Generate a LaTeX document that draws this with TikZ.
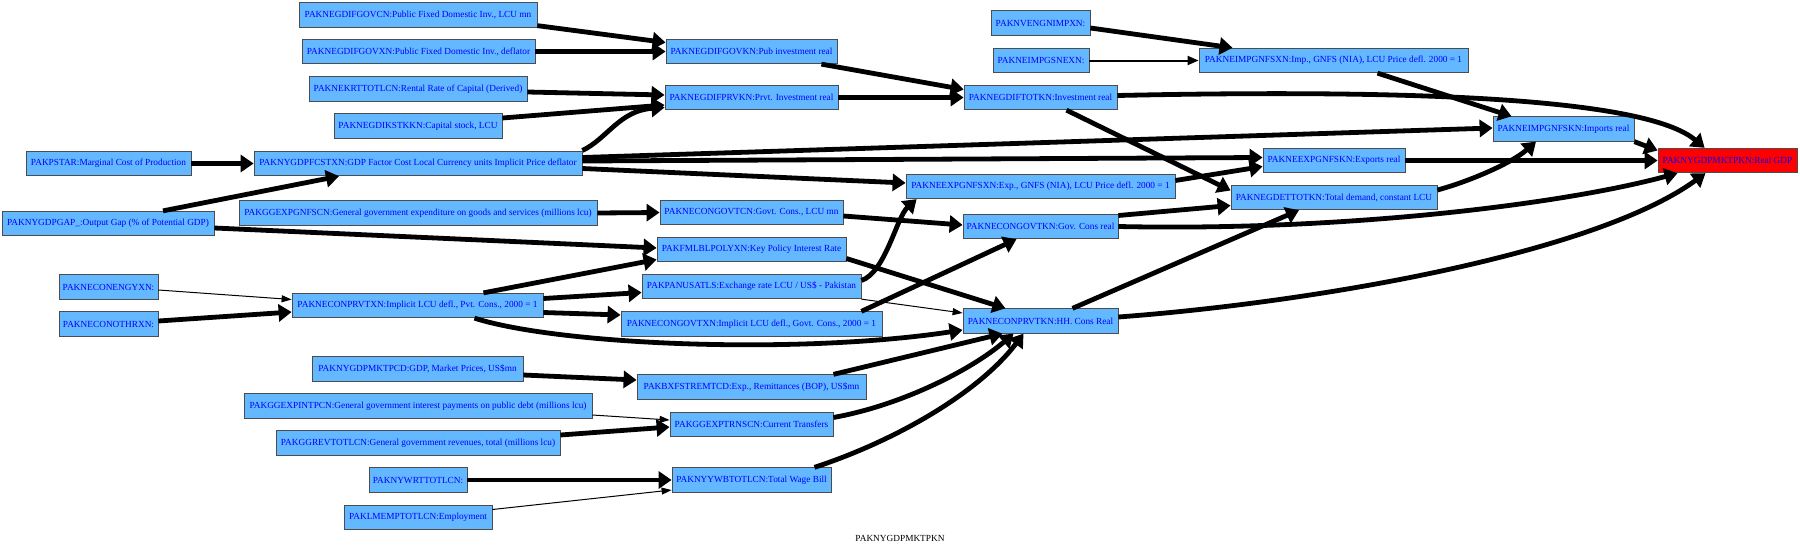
\documentclass[tikz,border=0pt]{standalone}
\usepackage{fontspec}
\setmainfont{Liberation Serif}
\usetikzlibrary{arrows.meta}
\definecolor{boxblue}{HTML}{63B8FF}

\begin{document}
\begin{tikzpicture}[x=1pt,y=-1pt,
    var/.style={draw=black!70,line width=0.8pt,fill=boxblue,text=blue,
      minimum height=24.5pt,inner xsep=1.5pt,inner ysep=0pt,
      font=\fontsize{9.3}{11}\selectfont},
    link/.style={line width=4.8pt,-{Triangle[length=13pt,width=17pt]}},
    thinlink/.style={line width=1pt,-{Triangle[length=10pt,width=7pt]}},
    midlink/.style={line width=2pt,-{Triangle[length=11pt,width=9pt]}}]
  \useasboundingbox (0,0) rectangle (1800,549);

  \node[var,minimum width=165pt] (pstar) at (108.5,163.5) {PAKPSTAR:Marginal Cost of Production};
  \node[var,minimum width=212pt] (gap) at (108,223.5) {PAKNYGDPGAP\_:Output Gap (\% of Potential GDP)};
  \node[var,minimum width=99pt] (engy) at (108.5,287) {PAKNECONENGYXN:};
  \node[var,minimum width=99pt] (othr) at (108.5,324) {PAKNECONOTHRXN:};

  \node[var,minimum width=238pt] (govcn) at (418,15) {PAKNEGDIFGOVCN:Public Fixed Domestic Inv., LCU mn};
  \node[var,minimum width=233pt] (govxn) at (418.5,51.5) {PAKNEGDIFGOVXN:Public Fixed Domestic Inv., deflator};
  \node[var,minimum width=218pt] (krt) at (418,89) {PAKNEKRTTOTLCN:Rental Rate of Capital (Derived)};
  \node[var,minimum width=168pt] (kstk) at (418,126) {PAKNEGDIKSTKKN:Capital stock, LCU};
  \node[var,minimum width=328pt] (fcst) at (418,163.5) {PAKNYGDPFCSTXN:GDP Factor Cost Local Currency units Implicit Price deflator};
  \node[var,minimum width=358pt] (ggexpg) at (418,213) {PAKGGEXPGNFSCN:General government expenditure on goods and services (millions lcu)};
  \node[var,minimum width=251pt] (prvtxn) at (417.5,305.5) {PAKNECONPRVTXN:Implicit LCU defl., Pvt. Cons., 2000 = 1};
  \node[var,minimum width=211pt] (mktpcd) at (417.5,369) {PAKNYGDPMKTPCD:GDP, Market Prices, US\$mn};
  \node[var,minimum width=348pt] (intp) at (418,406) {PAKGGEXPINTPCN:General government interest payments on public debt (millions lcu)};
  \node[var,minimum width=284pt] (rev) at (418,443) {PAKGGREVTOTLCN:General government revenues, total (millions lcu)};
  \node[var,minimum width=98pt] (wrt) at (418,480) {PAKNYWRTTOTLCN:};
  \node[var,minimum width=148pt] (lmemp) at (418,517.5) {PAKLMEMPTOTLCN:Employment};

  \node[var,minimum width=171pt] (govkn) at (751.5,51.5) {PAKNEGDIFGOVKN:Pub investment real};
  \node[var,minimum width=173pt] (prvkn) at (751.5,97.5) {PAKNEGDIFPRVKN:Prvt. Investment real};
  \node[var,minimum width=183pt] (govtcn) at (751.5,212.5) {PAKNECONGOVTCN:Govt. Cons., LCU mn};
  \node[var,minimum width=189pt] (polyxn) at (751.5,249.5) {PAKFMLBLPOLYXN:Key Policy Interest Rate};
  \node[var,minimum width=219pt] (anusa) at (751.5,286.5) {PAKPANUSATLS:Exchange rate LCU / US\$ - Pakistan};
  \node[var,minimum width=261pt] (govtxn) at (751.5,324) {PAKNECONGOVTXN:Implicit LCU defl., Govt. Cons., 2000 = 1};
  \node[var,minimum width=229pt] (remt) at (751.5,387) {PAKBXFSTREMTCD:Exp., Remittances (BOP), US\$mn};
  \node[var,minimum width=163pt] (trns) at (751.5,424.5) {PAKGGEXPTRNSCN:Current Transfers};
  \node[var,minimum width=159pt] (wbtot) at (751.5,480) {PAKNYYWBTOTLCN:Total Wage Bill};

  \node[var,minimum width=99pt] (vengn) at (1040.5,23) {PAKNVENGNIMPXN:};
  \node[var,minimum width=96pt] (gsnex) at (1041,60.5) {PAKNEIMPGSNEXN:};
  \node[var,minimum width=153pt] (gditot) at (1040.5,97.5) {PAKNEGDIFTOTKN:Investment real};
  \node[var,minimum width=269pt] (expxn) at (1040.5,186.5) {PAKNEEXPGNFSXN:Exp., GNFS (NIA), LCU Price defl. 2000 = 1};
  \node[var,minimum width=155pt] (govtkn) at (1040.5,226.5) {PAKNECONGOVTKN:Gov. Cons real};
  \node[var,minimum width=155pt] (prvtkn) at (1040.5,321) {PAKNECONPRVTKN:HH. Cons Real};

  \node[var,minimum width=269pt] (impxn) at (1333.5,60.5) {PAKNEIMPGNFSXN:Imp., GNFS (NIA), LCU Price defl. 2000 = 1};
  \node[var,minimum width=142pt] (expkn) at (1334,160.5) {PAKNEEXPGNFSKN:Exports real};
  \node[var,minimum width=206pt] (gdet) at (1334,197.5) {PAKNEGDETTOTKN:Total demand, constant LCU};
  \node[var,minimum width=141pt] (impkn) at (1563.5,129) {PAKNEIMPGNFSKN:Imports real};
  \node[var,minimum width=139pt,fill=red] (gdp) at (1727.5,160.5) {PAKNYGDPMKTPKN:Real GDP};

  \node[font=\fontsize{9.3}{11}\selectfont] (title) at (900,538) {PAKNYGDPMKTPKN};

  \draw[link] ([yshift=2pt]govcn.south east) -- ([yshift=9pt]govkn.west);
  \draw[link] (govxn.east) -- (govkn.west);
  \draw[link] ([yshift=-3pt]krt.east) -- ([yshift=2.5pt]prvkn.west);
  \draw[link] ([yshift=8pt]kstk.east) -- ([yshift=-7.5pt]prvkn.west);
  \draw[link] ([yshift=13pt]fcst.east) .. controls +(25,-12) and +(-45,3) .. ([yshift=-10pt]prvkn.west);
  \draw[link] ([xshift=-16pt]govkn.south east) -- ([yshift=8pt]gditot.west);
  \draw[link] (prvkn.east) -- (gditot.west);
  \draw[link] ([yshift=-5pt]vengn.east) -- ([xshift=34pt]impxn.north west);
  \draw[midlink] (gsnex.east) -- (impxn.west);
  \draw[link] ([yshift=2pt]gditot.east) .. controls +(370,-8) and +(-50,-42) .. ([xshift=47pt]gdp.north west);
  \draw[link] ([xshift=26pt]gditot.south) -- ([yshift=7pt]gdet.west);
  \draw[link] ([xshift=44pt]impxn.south) -- ([xshift=19pt]impkn.north west);
  \draw[link] ([yshift=6pt]fcst.east) -- ([yshift=1pt]impkn.west);
  \draw[link] ([yshift=2.5pt]fcst.east) -- ([yshift=3pt]expkn.west);
  \draw[link] ([yshift=-5pt]fcst.east) -- ([yshift=3.5pt]expxn.west);
  \draw[link] (pstar.east) -- (fcst.west);
  \draw[link] ([xshift=55pt]gap.north) -- ([xshift=-79pt]fcst.south);
  \draw[link] ([yshift=-4.5pt]gap.east) -- ([yshift=1.5pt]polyxn.west);
  \draw[link] (ggexpg.east) -- (govtcn.west);
  \draw[link] ([yshift=-3.5pt]govtcn.east) -- ([yshift=1.5pt]govtkn.west);
  \draw[link] ([yshift=6pt]expxn.east) -- ([yshift=-6pt]expkn.west);
  \draw[link] (impkn.south east) -- ([yshift=10pt]gdp.west);
  \draw[link] (expkn.east) -- (gdp.west);
  \draw[link] ([yshift=7.5pt]gdet.east) .. controls +(30,-8) and +(-25,22) .. ([xshift=-27.5pt]impkn.south);
  \draw[link] ([yshift=11pt]govtkn.east) -- ([yshift=-8pt]gdet.west);
  \draw[link] (govtkn.east) .. controls +(230,5) and +(-110,30) .. ([xshift=-50pt]gdp.south);
  \draw[link] ([xshift=32pt]prvtkn.north) -- ([xshift=-35pt]gdet.south);
  \draw[link] ([yshift=4pt]prvtkn.east) .. controls +(200,-15) and +(-110,80) .. ([xshift=-22pt]gdp.south);
  \draw[thinlink] ([yshift=-3pt]engy.east) -- ([yshift=6pt]prvtxn.west);
  \draw[link] ([yshift=3pt]othr.east) -- ([yshift=-6.5pt]prvtxn.west);
  \draw[link] ([xshift=66pt]prvtxn.north) -- ([yshift=-10pt]polyxn.west);
  \draw[link] ([yshift=7pt]prvtxn.east) -- ([yshift=-6pt]anusa.west);
  \draw[link] ([yshift=-7pt]prvtxn.east) -- ([yshift=9pt]govtxn.west);
  \draw[link] ([xshift=57pt]prvtxn.south) .. controls +(85,27) and +(-165,25) .. ([yshift=-9pt]prvtkn.west);
  \draw[link] ([yshift=-9pt]polyxn.east) -- ([xshift=-35pt]prvtkn.north);
  \draw[link] ([yshift=6pt]anusa.east) .. controls +(24,-8) and +(-20,18) .. ([xshift=11pt]expxn.south west);
  \draw[thinlink] (anusa.south east) -- ([yshift=8pt]prvtkn.west);
  \draw[link] ([xshift=-21pt]govtxn.north east) -- ([xshift=-24pt]govtkn.south);
  \draw[link] ([yshift=-6pt]mktpcd.east) -- ([yshift=7pt]remt.west);
  \draw[link] ([xshift=82pt]remt.north) -- ([xshift=-38pt]prvtkn.south);
  \draw[thinlink] ([yshift=-9pt]intp.east) -- ([yshift=4.5pt]trns.west);
  \draw[link] ([yshift=8pt]rev.east) -- ([yshift=-2.5pt]trns.west);
  \draw[link] ([yshift=7pt]trns.east) .. controls +(67,-12) and +(-43,37) .. ([xshift=-27pt]prvtkn.south);
  \draw[link] (wrt.east) -- (wbtot.west);
  \draw[thinlink] ([yshift=8pt]lmemp.east) -- ([yshift=-10pt]wbtot.west);
  \draw[link] ([xshift=63pt]wbtot.north) .. controls +(85,-28) and +(-43,57) .. ([xshift=-17pt]prvtkn.south);
\end{tikzpicture}
\end{document}
